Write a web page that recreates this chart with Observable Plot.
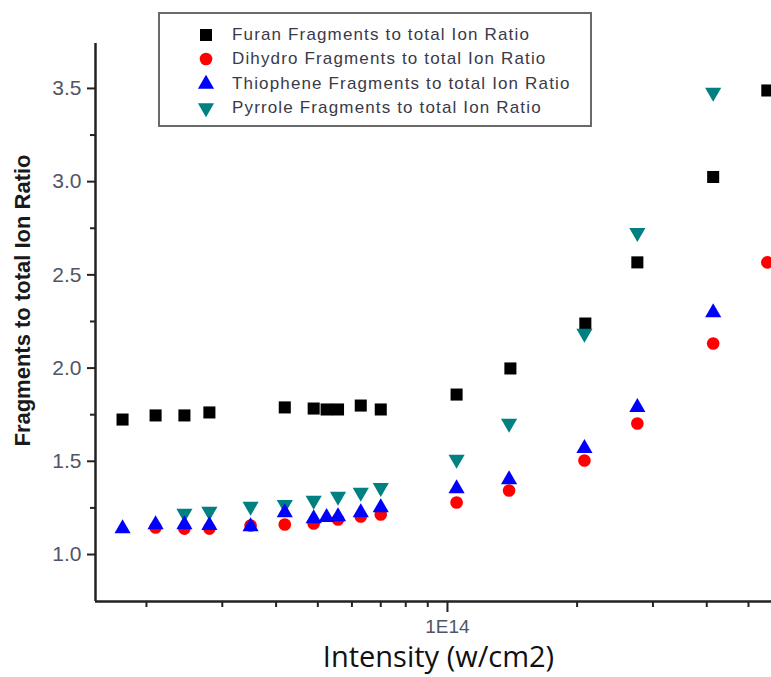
<!DOCTYPE html>
<html>
<head>
<meta charset="utf-8">
<script src="https://cdn.jsdelivr.net/npm/d3@7"></script>
<script src="https://cdn.jsdelivr.net/npm/@observablehq/plot@0.6"></script>
<style>
  html, body { margin: 0; padding: 0; background: #fff; }
  #wrap { position: relative; width: 771px; height: 677px; overflow: hidden; }
  #legend {
    position: absolute; left: 158px; top: 12px; width: 430px; height: 111px;
    border: 2px solid #6a6a6a; background: #fff; box-sizing: content-box;
    font-family: "Liberation Sans", Arial, sans-serif; font-size: 17px; letter-spacing: 1.15px;
    color: #3a3a48;
  }
  .row { position: absolute; left: 0; height: 24px; display: flex; align-items: center; }
  .row svg { position: absolute; left: 36px; }
  .row span { position: absolute; left: 72px; white-space: nowrap; }
</style>
</head>
<body>
<div id="wrap"></div>
<script>
// ---- data ----
const seriesNames = [
  "Furan Fragments to total Ion Ratio",
  "Dihydro Fragments to total Ion Ratio",
  "Thiophene Fragments to total Ion Ratio",
  "Pyrrole Fragments to total Ion Ratio"
];
const seriesColors = ["#000000", "#ff0000", "#0000ff", "#008080"];

const furanI = [1.76e13, 2.10e13, 2.45e13, 2.80e13, 4.19e13, 4.89e13, 5.24e13, 5.57e13, 6.29e13, 7.00e13, 1.05e14, 1.40e14, 2.09e14, 2.76e14, 4.14e14, 5.53e14];
const furanR = [1.724, 1.746, 1.746, 1.762, 1.789, 1.783, 1.778, 1.778, 1.799, 1.778, 1.858, 1.998, 2.239, 2.567, 3.025, 3.489];

const dihydroI = [2.10e13, 2.45e13, 2.80e13, 3.49e13, 4.19e13, 4.89e13, 5.57e13, 6.29e13, 7.00e13, 1.05e14, 1.39e14, 2.08e14, 2.76e14, 4.14e14, 5.53e14];
const dihydroR = [1.145, 1.139, 1.139, 1.156, 1.161, 1.166, 1.188, 1.204, 1.215, 1.279, 1.343, 1.504, 1.703, 2.132, 2.567];

const thiopheneI = [1.76e13, 2.10e13, 2.45e13, 2.80e13, 3.49e13, 4.19e13, 4.89e13, 5.24e13, 5.57e13, 6.29e13, 7.00e13, 1.05e14, 1.39e14, 2.08e14, 2.76e14, 4.14e14];
const thiopheneR = [1.139, 1.161, 1.161, 1.156, 1.150, 1.225, 1.193, 1.199, 1.204, 1.225, 1.252, 1.354, 1.402, 1.569, 1.789, 2.298];

const pyrroleI = [2.45e13, 2.80e13, 3.49e13, 4.19e13, 4.89e13, 5.57e13, 6.29e13, 7.00e13, 1.05e14, 1.39e14, 2.08e14, 2.76e14, 4.14e14];
const pyrroleR = [1.220, 1.231, 1.258, 1.268, 1.290, 1.311, 1.333, 1.359, 1.510, 1.703, 2.186, 2.727, 3.479];

const xDomain = [1.523e13, 5.655e14];
const yDomain = [0.748, 3.741];
const xMajorTicks = [1e14];
const xMajorLabels = ["1E14"];
const xMinorTicks = [2e13, 3e13, 4e13, 5e13, 6e13, 7e13, 8e13, 9e13, 2e14, 3e14, 4e14, 5e14];
const yMajorTicks = [1.0, 1.5, 2.0, 2.5, 3.0, 3.5];
const yMinorTicks = [1.25, 1.75, 2.25, 2.75, 3.25];
const xLabel = "Intensity (w/cm2)";
const yLabel = "Fragments to total Ion Ratio";

// ---- build ----
const toRows = (I, R) => I.map((x, i) => ({x, y: R[i]}));
const furan = toRows(furanI, furanR);
const dihydro = toRows(dihydroI, dihydroR);
const thiophene = toRows(thiopheneI, thiopheneR);
const pyrrole = toRows(pyrroleI, pyrroleR);

const sqrt3 = Math.sqrt(3);
const triangleDown = {
  draw(context, size) {
    const y = -Math.sqrt(size / (sqrt3 * 3));
    context.moveTo(0, -y * 2);
    context.lineTo(-sqrt3 * y, y);
    context.lineTo(sqrt3 * y, y);
    context.closePath();
  }
};

const sans = "Liberation Sans, Arial, sans-serif";
const xLabelFor = d => xMajorLabels[xMajorTicks.indexOf(d)] ?? "";

const chart = Plot.plot({
  width: 771,
  height: 677,
  marginLeft: 95,
  marginRight: 0,
  marginTop: 43,
  marginBottom: 76,
  style: {fontFamily: sans, background: "#fff", overflow: "hidden"},
  x: {type: "log", domain: xDomain},
  y: {domain: yDomain},
  marks: [
    Plot.axisX(xMinorTicks, {tickSize: 6, tickFormat: () => "", strokeWidth: 2, stroke: "#222", label: null}),
    Plot.axisX(xMajorTicks, {tickSize: 11, tickPadding: 7, tickFormat: xLabelFor, strokeWidth: 2, stroke: "#222",
      fill: "#505566", fontSize: 19, label: null, style: {letterSpacing: "1px"}}),
    Plot.axisY(yMinorTicks, {tickSize: 5, tickFormat: () => "", strokeWidth: 2, stroke: "#222", label: null}),
    Plot.axisY(yMajorTicks, {tickSize: 8, tickPadding: 6, tickFormat: d3.format(".1f"), strokeWidth: 2, stroke: "#222",
      fill: "#505566", fontSize: 21, label: null, style: {letterSpacing: "1.6px"}}),
    Plot.ruleY([yDomain[0]], {stroke: "#222", strokeWidth: 2.5}),
    Plot.ruleX([xDomain[0]], {stroke: "#222", strokeWidth: 2.5}),
    Plot.text([yLabel], {text: d => d, frameAnchor: "left", textAnchor: "middle", rotate: -90, dx: -73, dy: -22,
      fontSize: 22, fontWeight: "bold", fill: "#1a1a1a", fontFamily: sans, style: {letterSpacing: "2.3px"}}),
    Plot.text([xLabel], {text: d => d, frameAnchor: "bottom", textAnchor: "middle", dx: 5, dy: 56, lineAnchor: "middle",
      fontSize: 29, fill: "#111", fontFamily: "Open Sans, sans-serif", style: {letterSpacing: "0.2px"}}),
    Plot.dot(furan, {x: "x", y: "y", symbol: "square", r: 6.8, fill: seriesColors[0], stroke: "none"}),
    Plot.dot(pyrrole, {x: "x", y: "y", symbol: triangleDown, r: 6, fill: seriesColors[3], stroke: "none"}),
    Plot.dot(dihydro, {x: "x", y: "y", symbol: "circle", r: 6.3, fill: seriesColors[1], stroke: "none"}),
    Plot.dot(thiophene, {x: "x", y: "y", symbol: "triangle", r: 6, fill: seriesColors[2], stroke: "none"})
  ]
});

const wrap = document.getElementById("wrap");
wrap.appendChild(chart);

// ---- legend (HTML overlay inside the plot area, as in the reference) ----
const legend = document.createElement("div");
legend.id = "legend";
const symbolPaths = [
  d3.symbol(d3.symbolSquare, Math.PI * 6.8 * 6.8)(),
  d3.symbol(d3.symbolCircle, Math.PI * 6.3 * 6.3)(),
  d3.symbol(d3.symbolTriangle, Math.PI * 6 * 6)(),
  null
];
{
  const s = d3.path();
  triangleDown.draw(s, Math.PI * 36);
  symbolPaths[3] = s.toString();
}
seriesNames.forEach((name, i) => {
  const row = document.createElement("div");
  row.className = "row";
  row.style.top = (9 + i * 24.3) + "px";
  row.style.width = "100%";
  row.innerHTML = `<svg width="20" height="20" viewBox="-10 -10 20 20"><path d="${symbolPaths[i]}" fill="${seriesColors[i]}"/></svg><span>${name}</span>`;
  legend.appendChild(row);
});
wrap.appendChild(legend);
</script>
</body>
</html>
